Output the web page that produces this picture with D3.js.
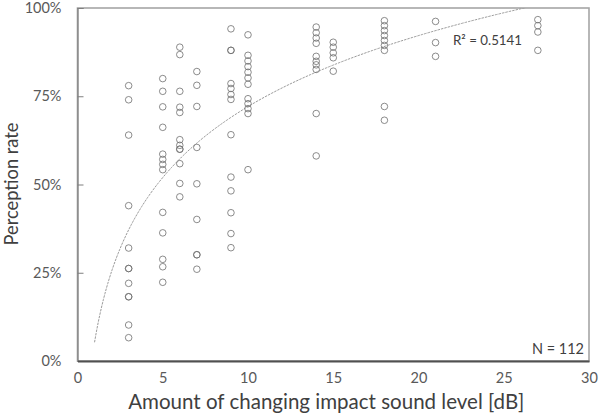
<!DOCTYPE html>
<html><head><meta charset="utf-8">
<script src="https://cdn.jsdelivr.net/npm/d3@7"></script>
<style>
html,body{margin:0;padding:0;background:#fff;}
svg{display:block;}
text{font-family:Lato,"Open Sans","Noto Sans",sans-serif;}
</style></head>
<body>
<svg id="chart" width="606" height="416"></svg>
<script>
// ---- data (dB change, perception rate %) ----
const levels = [3, 5, 6, 7, 9, 10, 14, 15, 18, 21, 27];
const rates = [
  [78, 74, 64, 44, 32, 26.2, 26.2, 22, 18.2, 18.2, 10.2, 6.6],
  [80, 76.4, 72, 66.2, 58.6, 57.1, 55.7, 54.2, 42.1, 36.3, 28.8, 26.7, 22.3],
  [88.9, 86.8, 76.4, 71.9, 70.4, 62.7, 61.1, 60, 60, 55.9, 50.3, 46.5],
  [82, 78.1, 72.1, 60.5, 50.2, 40.1, 30.1, 30.1, 26],
  [94.1, 88, 88, 78.6, 77.2, 75.5, 74.1, 64.1, 52.1, 48.2, 42, 36.1, 32.1],
  [92.4, 86.6, 85, 83.4, 81.8, 80.2, 78.4, 74.3, 72.9, 71.5, 70.1, 54.2],
  [94.6, 93, 91.5, 90, 86.3, 84.9, 83.9, 82.6, 70.1, 58.1],
  [90.3, 88.9, 87.3, 85.9, 82.1],
  [96.4, 95, 93.6, 92.2, 90.8, 89.4, 88, 72.1, 68.2],
  [96.2, 90.2, 86.3],
  [96.7, 95, 93.2, 88]
];
const xTicks = [0, 5, 10, 15, 20, 25, 30];
const yTicks = [0, 25, 50, 75, 100];
const trendA = 29.0, trendB = 5.3;   // logarithmic trendline y = A ln(x) + B (%)
const trendStart = 1;
const r2Label = "R\u00B2 = 0.5141";
const nLabel = "N = 112";
const xTitle = "Amount of changing impact sound level [dB]";
const yTitle = "Perception rate";

const points = [];
levels.forEach((lv, i) => rates[i].forEach(v => points.push({x: lv, y: v})));

// ---- layout ----
const svg = d3.select("#chart");
const L = 77.5, R = 589, T = 8, B = 361;
const x = d3.scaleLinear().domain([0, 30]).range([L, R]);
const y = d3.scaleLinear().domain([0, 100]).range([B, T]);

svg.append("defs").append("clipPath").attr("id", "clip")
  .append("rect").attr("x", L).attr("y", T).attr("width", R - L).attr("height", B - T);

// plot border
svg.append("rect").attr("x", L).attr("y", T).attr("width", R - L).attr("height", B - T)
  .attr("fill", "none").attr("stroke", "#a6a6a6").attr("stroke-width", 1.6);

// trendline
const tx = d3.range(0, 301).map(i => trendStart + (27 - trendStart) * i / 300);
const line = d3.line().x(d => x(d)).y(d => y(trendA * Math.log(d) + trendB));
svg.append("path").datum(tx).attr("d", line).attr("clip-path", "url(#clip)")
  .attr("fill", "none").attr("stroke", "#9a9a9a").attr("stroke-width", 1)
  .attr("stroke-dasharray", "2.5,1");

// points
svg.append("g").selectAll("circle").data(points).join("circle")
  .attr("cx", d => x(d.x)).attr("cy", d => y(d.y)).attr("r", 3.3)
  .attr("fill", "none").attr("stroke", "#6f6f6f").attr("stroke-width", 1)
  .attr("stroke-opacity", 0.8);

// axes
const yAxis = d3.axisLeft(y).tickValues(yTicks).tickFormat(d => d + "%").tickSize(-6).tickPadding(16);
const gy = svg.append("g").attr("transform", `translate(${L},0)`).call(yAxis);
gy.select(".domain").attr("stroke", "#7f7f7f").attr("stroke-width", 1.2);
gy.selectAll(".tick line").attr("stroke", "#7f7f7f");
gy.selectAll("text").attr("fill", "#595959").style("font-size", "14.5px");

const xAxis = d3.axisBottom(x).tickValues(xTicks).tickSize(0).tickPadding(12);
const gx = svg.append("g").attr("transform", `translate(0,${B})`).call(xAxis);
gx.select(".domain").attr("stroke", "#505050").attr("stroke-width", 1.8);
gx.selectAll("text").attr("fill", "#595959").style("font-size", "14.5px");

function fit(sel, w) {
  let fs = parseFloat(sel.style("font-size"));
  const cur = sel.node().getComputedTextLength();
  sel.style("font-size", (fs * w / cur).toFixed(2) + "px");
}

// titles
const xt = svg.append("text").attr("x", (L + R) / 2 - 7).attr("y", 409)
  .attr("text-anchor", "middle").attr("fill", "#404040").style("font-size", "17px").text(xTitle);
fit(xt, 396);
const yt = svg.append("text").attr("transform", `translate(18,184) rotate(-90)`)
  .attr("text-anchor", "middle").attr("fill", "#404040").style("font-size", "17px").text(yTitle);
fit(yt, 123);

// annotations
const r2 = svg.append("text").attr("x", 453).attr("y", 45).attr("fill", "#404040")
  .style("font-size", "12px").text(r2Label);
fit(r2, 69);
const nt = svg.append("text").attr("x", 584).attr("y", 354).attr("text-anchor", "end")
  .attr("fill", "#404040").style("font-size", "12px").text(nLabel);
fit(nt, 52);
</script>
</body></html>
